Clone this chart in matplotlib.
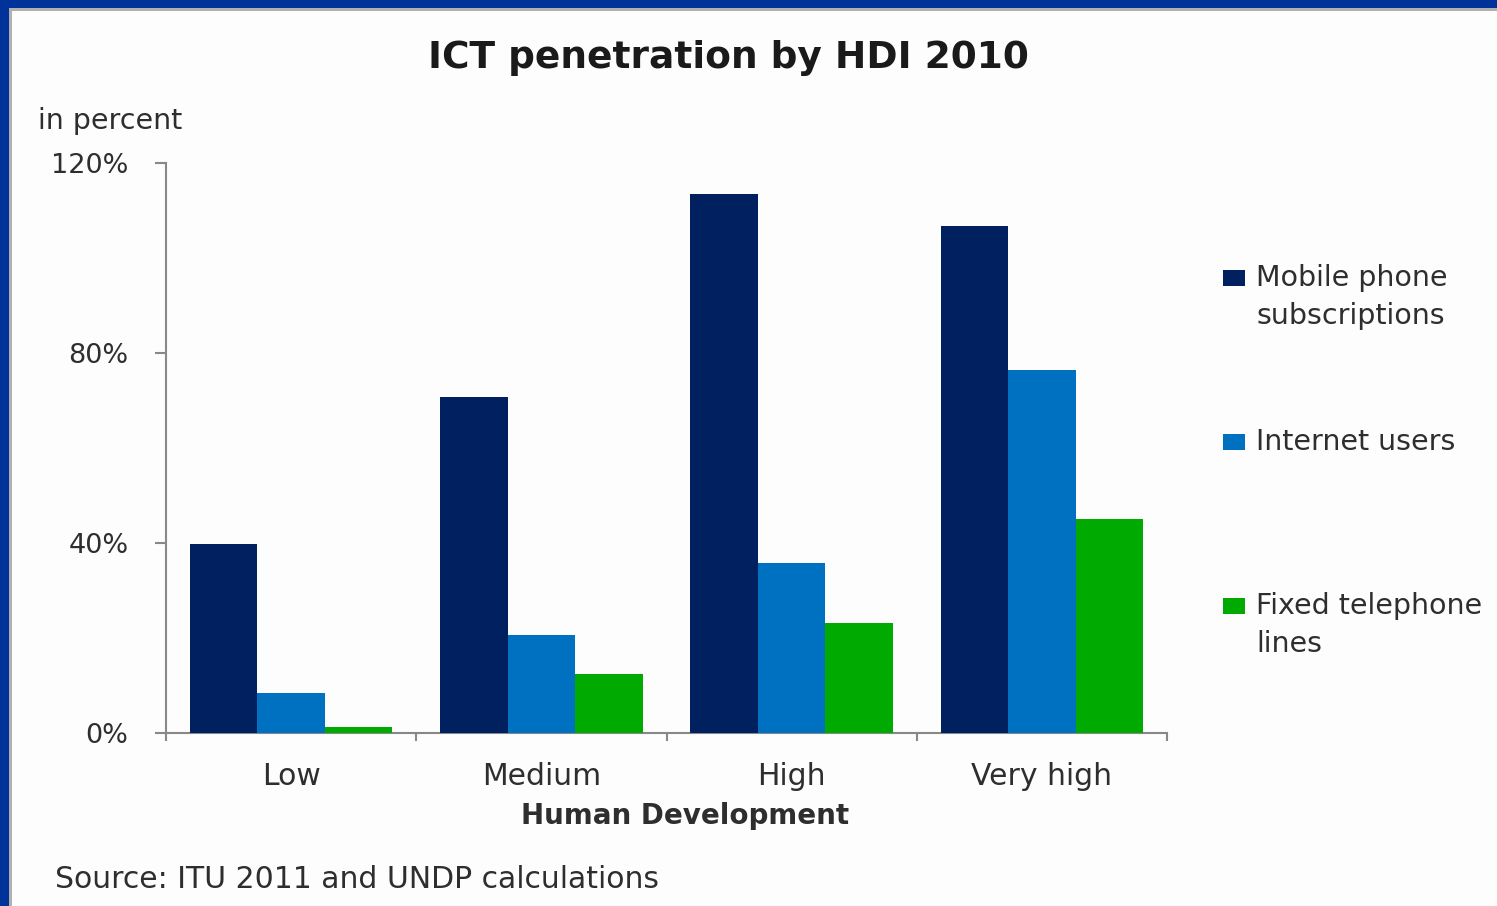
import matplotlib
matplotlib.use("Agg")
import matplotlib.pyplot as plt
import numpy as np
from matplotlib.patches import Rectangle

categories = ["Low", "Medium", "High", "Very high"]
series_names = [["Mobile phone", "subscriptions"], ["Internet users"], ["Fixed telephone", "lines"]]
mobile = [39.8, 70.7, 113.5, 106.7]
internet = [8.4, 20.6, 35.8, 76.4]
fixed = [1.3, 12.4, 23.2, 45.1]
yticks = [0, 40, 80, 120]
ytick_labels = ["0%", "40%", "80%", "120%"]
colors = ["#002060", "#0070C0", "#00AA00"]

plt.rcParams['font.family'] = ['DejaVu Sans']
txt = "#2e2e2e"

W, H = 1497, 906
fig = plt.figure(figsize=(W / 100, H / 100), dpi=100)
fig.patch.set_facecolor("#fdfdfd")

# border
fig.patches.append(Rectangle((0, 1 - 8 / H), 1, 8 / H, transform=fig.transFigure,
                             facecolor="#003399", edgecolor="none", zorder=10))
fig.patches.append(Rectangle((0, 0), 9 / W, 1, transform=fig.transFigure,
                             facecolor="#003399", edgecolor="none", zorder=10))
fig.patches.append(Rectangle((9 / W, 1 - 11 / H), 1, 3 / H, transform=fig.transFigure,
                             facecolor="#b0b0b0", edgecolor="none", zorder=9))
fig.patches.append(Rectangle((9 / W, 0), 3 / W, 1 - 8 / H, transform=fig.transFigure,
                             facecolor="#b0b0b0", edgecolor="none", zorder=9))

x0, x1 = 166, 1167
yb, yt = 733, 163
ax = fig.add_axes([x0 / W, (H - yb) / H, (x1 - x0) / W, (yb - yt) / H])
ax.set_facecolor("none")

x = np.arange(len(categories))
bw = 0.27
for i, (vals, c) in enumerate(zip([mobile, internet, fixed], colors)):
    ax.bar(x + (i - 1) * bw, vals, width=bw, color=c, zorder=3)

ax.set_xlim(-0.5, len(categories) - 0.5)
ax.set_ylim(0, 120)
ax.set_yticks(yticks)
ax.set_yticklabels(ytick_labels, fontsize=19.5, color=txt)
ax.set_xticks(x)
ax.set_xticklabels(categories, fontsize=21.5, color=txt)
ax.tick_params(axis="x", length=0, pad=21)
ax.set_xticks(np.arange(len(categories) + 1) - 0.5, minor=True)
ax.tick_params(axis="x", which="minor", length=6, color="#888888", width=1.5)
ax.tick_params(axis="y", length=8, color="#888888", width=1.5, pad=19)
for s in ["top", "right"]:
    ax.spines[s].set_visible(False)
for s in ["left", "bottom"]:
    ax.spines[s].set_color("#888888")
    ax.spines[s].set_linewidth(1.5)

fig.text(728 / W, 1 - 58 / H, "ICT penetration by HDI 2010", ha="center", va="center",
         fontsize=27, fontweight="bold", color="#1a1a1a")
fig.text(38 / W, 1 - 121 / H, "in percent", ha="left", va="center", fontsize=20.5, color=txt)
fig.text(685 / W, 1 - 816 / H, "Human Development", ha="center", va="center",
         fontsize=20, fontweight="bold", color=txt)
fig.text(55 / W, 1 - 879 / H, "Source: ITU 2011 and UNDP calculations", ha="left", va="center",
         fontsize=21.5, color=txt)

# legend (Excel style: square aligned with first line)
leg_y = [278, 442, 606]
line_gap = 38
for names, c, ly in zip(series_names, colors, leg_y):
    fig.patches.append(Rectangle((1223 / W, 1 - (ly + 8) / H), 22 / W, 16 / H,
                                 transform=fig.transFigure, facecolor=c, edgecolor="none"))
    for k, line in enumerate(names):
        fig.text(1256 / W, 1 - (ly + k * line_gap) / H, line, ha="left", va="center",
                 fontsize=20.5, color=txt)

fig.savefig("out.png", dpi=100, facecolor=fig.get_facecolor())
